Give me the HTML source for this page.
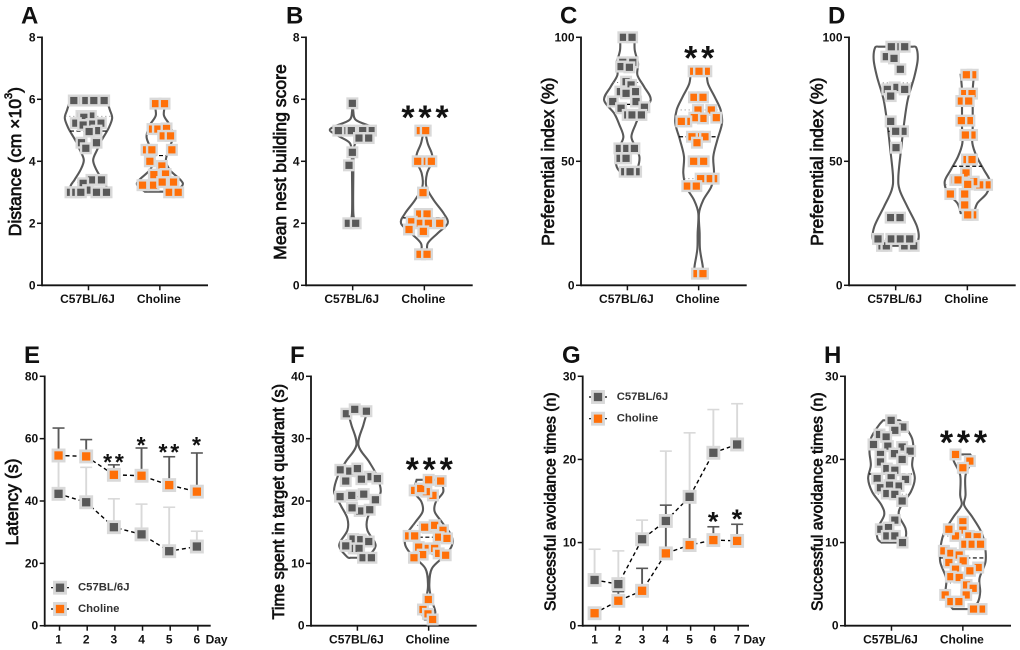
<!DOCTYPE html>
<html lang="en">
<head>
<meta charset="utf-8">
<title>Behavioural test panels A-H</title>
<style>
html,body{margin:0;padding:0;background:#fff;width:1020px;height:650px;overflow:hidden}
svg{display:block}
text{font-family:"Liberation Sans",sans-serif;fill:#111}
</style>
</head>
<body>
<svg id="figure" width="1020" height="650" viewBox="0 0 1020 650" xmlns="http://www.w3.org/2000/svg"></svg>
<script>
// ---------- Shared labels ----------
const groupNames = ["C57BL/6J", "Choline"];

// ---------- Panel A ----------
const aTicks = [0, 2, 4, 6, 8];
const aC57Values = [5.96,5.96,5.96,5.96,5.96,5.46,5.46,5.42,5.23,5.23,5.2,5.17,4.99,4.96,4.6,4.6,4.42,3.4,3.4,3.29,3.07,3,3,3,3,3];
const aC57Spread = [-21,-8,-44,16,47,-21,7,-14,-38,37,9,-16,24,2,24,-21,-8,9,39,-16,-1,-54,-38,-23,24,54];
const aC57Levels = [5.96,5.66,5.39,5.06,4.69,4.37,4.04,3.72,3.4,3.18,3.0];
const aC57Density = [55,64,71,60,40,26,14,24,42,54,40];
const aChoValues = [5.86,5.86,5.04,5.04,5.06,4.82,4.82,4.37,4.37,4.37,4,3.85,3.57,3.59,3.23,3.23,3.33,3.33,3,3];
const aChoSpread = [-13,14,-22,-6,20,10,32,-40,-24,36,-30,6,-18,17,-52,-19,7,41,28,55];
const aChoLevels = [5.92,5.49,5.17,4.8,4.47,4.04,3.72,3.4,3.23,3.02];
const aChoDensity = [18,12,30,40,30,18,30,62,68,45];

// ---------- Panel B ----------
const bTicks = [0, 2, 4, 6, 8];
const bC57Values = [5.87,4.99,4.99,4.99,4.99,4.99,4.75,4.75,4.29,3.87,2,2];
const bC57Spread = [-1,55,-23,-43,-4,30,19,48,-1,-11,-13,9];
const bC57Levels = [5.87,5.6,5.33,5.12,4.99,4.8,4.58,4.2,3.6,2.32,2];
const bC57Density = [2,2,10,55,68,40,8,3,2,2,10];
const bChoValues = [4.99,4.99,4,4,4,2.99,2.3,2.3,2.05,2,2,2,1.8,1.74,1,1];
const bChoSpread = [-12,4,0,-20,21,-4,-14,8,-38,-12,46,12,-46,-3,-13,8];
const bChoLevels = [4.99,4.58,4.26,4,3.61,3.18,2.75,2.32,2,1.68,1.35,1.03];
const bChoDensity = [2,10,22,24,8,6,28,58,70,40,10,10];

// ---------- Panel C ----------
const cTicks = [0, 50, 100];
const cC57Values = [100,100,89.9,89.9,88.2,87.9,82.1,80.8,78.1,78.1,77.4,74.1,74.1,71.4,71.8,68.7,68.7,68.7,55.2,55.2,55.2,51.2,51.2,45.8,45.8,45.8];
const cC57Spread = [-12,14,-14,16,-19,6,-4,11,-21,24,-4,-44,26,-19,51,1,14,42,-24,-2,21,-22,-4,-8,26,8];
const cC57Levels = [100,94.9,89.5,84.8,80.1,74.7,69.4,64.7,59.9,55.9,51.9,47.8,45.8];
const cC57Density = [22,22,32,30,50,70,40,24,12,24,36,32,22];
const cChoValues = [86.3,86.3,86.3,75.8,75.8,70.7,70.7,67.3,67.6,67.6,66.1,66.1,59.9,59.9,59.9,57.5,50,50,43,43,43,40,40,4.7,4.7];
const cChoSpread = [-15,23,1,-14,13,-2,38,13,-13,53,-37,-52,-2,-20,19,-5,-15,15,45,30,6,-34,-7,-5,13];
const cChoLevels = [86.3,81.4,76,70.7,65.3,58.6,51.9,45.2,39.8,34.4,29,21,14.5,8,4.7];
const cChoDensity = [24,28,48,66,70,56,44,46,38,14,1,3,4,12,14];

// ---------- Panel D ----------
const dTicks = [0, 50, 100];
const dC57Values = [96.2,96.2,96.2,92.2,91.5,87.1,79.8,79,79,76.3,66.1,62.1,62.1,55.5,27.3,27.3,15.9,15.9,15.9,15.9,18.7,18.7,18.7,18.7];
const dC57Spread = [12,-13,27,-28,-5,14,-3,-25,27,-15,-15,22,0,1,-15,13,-41,-28,27,54,-53,-13,14,42];
const dC57Levels = [96.2,95.8,90.9,84.1,74.7,64,54.6,43.8,38.4,31.7,23.7,18.3,15.9];
const dC57Density = [50,62,66,56,36,24,16,8,12,35,64,68,50];
const dChoValues = [84.9,84.9,77.3,77.3,74.3,74.3,66.4,66.4,60.6,60.6,50.7,50.7,45.3,42.5,42.5,40.5,40.5,41.8,40.7,36.8,36.8,32.4,28.4,28.4];
const dChoSpread = [16,-3,-8,14,-18,4,6,-18,14,-6,-1,14,-4,-36,-28,59,37,19,1,-51,-8,-8,16,1];
const dChoLevels = [84.9,78.7,72,63.9,57.3,51.9,46.5,41.8,37.1,33.1,29.1];
const dChoDensity = [20,16,16,16,15,28,50,68,58,30,20];

// ---------- Panel E ----------
const eDays = [1, 2, 3, 4, 5, 6];
const eTicks = [0, 20, 40, 60, 80];
const eC57Means = [42.3, 39.6, 31.6, 29.3, 23.9, 25.4];
const eC57Upper = [53.5, 50.8, 40.7, 39, 38, 30.3];
const eChoMeans = [54.6, 54.3, 48.4, 48.1, 45.1, 43];
const eChoUpper = [63.4, 59.7, 51.6, 57, 54.2, 55.4];
const eStarDays = [3, 4, 5, 6];
const eStarLabels = ["**", "*", "**", "*"];
const eStarLevels = [54.1, 59.6, 57.3, 59.6];

// ---------- Panel F ----------
const fTicks = [0, 10, 20, 30, 40];
const fC57Values = [34,34.7,34.4,25,24.8,25.2,23.9,23.6,23.5,23.2,20.7,20.9,21.1,20.2,18.4,18.9,18.6,13.9,13.8,13.5,12.4,12.4,12.8,10.9,10.9];
const fC57Spread = [-33,-8,27,-51,-23,0,37,60,12,-35,-52,-17,19,54,7,-16,37,-13,10,34,-11,5,-35,17,42];
const fC57Levels = [34.4,32.2,29,26.3,24.1,21.5,19.3,17.2,15.3,13.4,12.4,11,10.9];
const fC57Density = [30,18,3,35,58,70,50,30,30,52,52,30,20];
const fChoValues = [20.9,21.5,21.7,22,23.4,23.2,15.7,15.8,16.1,15.3,14.4,14.4,14.2,14,12.4,12.4,12.6,11.4,10.9,11.6,11.3,4.2,2.6,1.9,1];
const fChoSpread = [13,-7,-42,-24,0,36,-2,-12,18,43,-60,-42,30,55,-2,18,-30,-18,-44,30,51,-1,-17,-2,12];
const fChoLevels = [23.4,21.5,19.9,18.3,16.6,14.5,12.9,11.3,9.2,6.5,4.3,2.2,1];
const fChoDensity = [36,44,22,18,40,68,70,50,10,2,8,20,12];

// ---------- Panel G ----------
const gDays = [1, 2, 3, 4, 5, 6, 7];
const gTicks = [0, 10, 20, 30];
const gC57Means = [5.5, 5, 10.4, 12.6, 15.5, 20.8, 21.8];
const gC57Upper = [9.2, 9, 12.7, 21, 23.2, 26, 26.7];
const gChoMeans = [1.5, 3, 4.2, 8.7, 9.7, 10.3, 10.2];
const gChoUpper = [1.9, 4.1, 6.9, 14.5, 14.8, 11.9, 12.2];
const gStarDays = [6, 7];
const gStarLabels = ["*", "*"];
const gStarLevels = [13.3, 13.6];

// ---------- Panel H ----------
const hTicks = [0, 10, 20, 30];
const hC57Values = [24.7,23.9,23.5,23,22.7,21.8,21.6,21.5,21,20.6,20.7,20,19.7,18.9,18.7,17.7,17.6,17.8,16.6,16.8,16.9,15.9,15.8,15,12.7,11.6,11.8,10.8,10.8,10];
const hC57Spread = [-1,34,10,-36,-16,-54,-11,32,56,-33,9,32,-33,-14,10,-43,42,-1,-33,21,-6,-14,10,32,10,-32,-9,-14,10,33];
const hC57Levels = [24.7,24,22.5,20.9,19.3,17.7,16.1,14.5,13.3,11.7,10.5,10];
const hC57Density = [25,40,62,66,62,70,58,30,22,42,42,30];
const hChoValues = [20.6,19.8,19,12.5,11.5,10.8,10.8,10.7,11.6,9.8,9.8,9.8,9,8.7,8.5,7.8,7.6,7,6.8,6.6,5.9,5.8,4.9,4.5,3.7,3.7,2.9,2.9,2,2];
const hChoSpread = [-22,21,0,0,0,-22,18,43,-42,6,28,53,-57,-36,-11,1,-42,46,-22,21,-36,-11,11,31,-53,10,-36,-12,56,32];
const hChoLevels = [20.6,19.9,18.1,15.7,14.5,13.1,11.3,9.7,7.7,5.7,4.1,2.9,2];
const hChoDensity = [22,28,8,8,4,28,55,66,68,50,52,46,30];

const panelStarValues = { b: 5.65, c: 94.6, f: 26.3, h: 22.95 };

// ---------- Palette ----------
const GRAY = "#595959";
const HALO = "#d9d9d9";
const ORANGE = "#ff7009";
const INK = "#141414";
const spreadUnit = 1 / 3; // swarm offset and violin density units to pixels

const svg = document.getElementById("figure");
const NS = "http://www.w3.org/2000/svg";

function make(parent, tag, attrs, text) {
  const node = document.createElementNS(NS, tag);
  for (const key in attrs) node.setAttribute(key, attrs[key]);
  if (text !== undefined) node.textContent = text;
  parent.appendChild(node);
  return node;
}

function linear(d0, d1, r0, r1) {
  return function (v) { return r0 + (v - d0) / (d1 - d0) * (r1 - r0); };
}

function smooth(points) {
  let path = "";
  for (let i = 0; i < points.length - 1; i++) {
    const p0 = points[Math.max(i - 1, 0)];
    const p1 = points[i];
    const p2 = points[i + 1];
    const p3 = points[Math.min(i + 2, points.length - 1)];
    const c1x = p1[0] + (p2[0] - p0[0]) / 6;
    const c1y = p1[1] + (p2[1] - p0[1]) / 6;
    const c2x = p2[0] - (p3[0] - p1[0]) / 6;
    const c2y = p2[1] - (p3[1] - p1[1]) / 6;
    path += "C" + c1x.toFixed(2) + " " + c1y.toFixed(2) + " " + c2x.toFixed(2) + " " + c2y.toFixed(2) + " " + p2[0].toFixed(2) + " " + p2[1].toFixed(2);
  }
  return path;
}

function quantile(values, q) {
  const s = values.slice().sort(function (a, b) { return a - b; });
  const pos = (s.length - 1) * q;
  const lo = Math.floor(pos);
  const hi = Math.ceil(pos);
  return s[lo] + (s[hi] - s[lo]) * (pos - lo);
}

function densityAt(levels, density, v) {
  for (let i = 0; i < levels.length - 1; i++) {
    if (v <= levels[i] && v >= levels[i + 1]) {
      const t = (levels[i] - v) / (levels[i] - levels[i + 1]);
      return density[i] + (density[i + 1] - density[i]) * t;
    }
  }
  return 0;
}

function drawAxes(g, p, ticks, labels, labelFn) {
  const y = linear(0, ticks[ticks.length - 1], p.y0, p.y1);
  const yAxis = make(g, "line", { x1: p.x0, x2: p.x0, y1: p.y0 + 1, y2: p.y1 - 0.8, stroke: INK, "stroke-width": 1.8 });
  
  
  const xAxis = make(g, "line", { x1: p.x0, x2: p.x1, y1: p.y0, y2: p.y0, stroke: INK, "stroke-width": 1.8 });
  
  
  ticks.forEach(function (t) {
    const mark = make(g, "line", { x1: p.x0 - 5, x2: p.x0, y1: y(t), y2: y(t), stroke: INK, "stroke-width": 1.5 });
    
    
    const label = make(g, "text", { x: p.x0 - 6.5, y: y(t), "text-anchor": "end", "dominant-baseline": "central", "font-size": 12, "font-weight": "bold" }, String(t));
    
    
  });
  labels.forEach(function (name, i) {
    const cx = labelFn(i);
    const mark = make(g, "line", { x1: cx, x2: cx, y1: p.y0, y2: p.y0 + 5, stroke: INK, "stroke-width": 1.5 });
    
    
    const label = make(g, "text", { x: cx - 1, y: p.y0 + 13.6, "text-anchor": "middle", "dominant-baseline": "central", "font-size": 12, "font-weight": "bold" }, String(name));
    
    
  });
  return y;
}

function drawTitle(g, p) {
  const t = make(g, "text", {
    x: p.titleX, y: p.titleY, transform: "rotate(-90 " + p.titleX + " " + p.titleY + ")",
    "text-anchor": "middle", "dominant-baseline": "central",
    "font-size": p.titleSize, stroke: "#111", "stroke-width": 0.7
  });
  
  
  if (p.superscript) {
    make(t, "tspan", {}, p.title);
    make(t, "tspan", { dy: -6, "font-size": p.titleSize * 0.62 }, p.superscript);
    make(t, "tspan", { dy: 6 }, p.titleEnd);
  } else {
    t.textContent = p.title;
  }
  const letter = make(g, "text", { x: p.letterX, y: p.y1 < 100 ? 23.3 : 363, "font-size": 24, "font-weight": "bold", fill: "#000" }, p.letter);
  
  
}

function drawStars(g, label, cx, cy, size, step) {
  const star = make(g, "text", {
    x: cx, y: cy + size * 0.56, "text-anchor": "middle", "font-size": size, "font-weight": "bold",
    "letter-spacing": step - size * 0.389, fill: "#000"
  }, label);
  
  
}

function drawViolin(g, name, color, cx, y, levels, density, values, spread) {
  const right = levels.map(function (v, i) { return [cx + density[i] * spreadUnit, y(v)]; });
  const left = levels.map(function (v, i) { return [cx - density[i] * spreadUnit, y(v)]; }).reverse();
  const d = "M" + right[0][0] + " " + right[0][1] + smooth(right) +
            "L" + left[0][0] + " " + left[0][1] + smooth(left) + "Z";
  const outline = make(g, "path", { d: d, fill: "none", stroke: GRAY, "stroke-width": 2.1 });
  
  

  [0.25, 0.5, 0.75].forEach(function (q) {
    const level = quantile(values, q);
    const half = densityAt(levels, density, level) * spreadUnit;
    const isMedian = q === 0.5;
    const stat = make(g, "line", {
      x1: cx - half, x2: cx + half, y1: y(level), y2: y(level), stroke: isMedian ? "#000" : "#777",
      "stroke-width": isMedian ? 1.2 : 0.9, "stroke-dasharray": isMedian ? "4 2.5" : "1 3"
    });
    
    
  });

  values.forEach(function (v, i) {
    const px = cx + (spread[i] || 0) * spreadUnit;
    const py = y(v);
    const dot = make(g, "rect", { x: px - 4.8, y: py - 4.8, width: 9.6, height: 9.6, fill: color, stroke: HALO, "stroke-width": 2.4 });
    
    
  });
}

function violinPanel(p, ticks, series, starValue) {
  const g = make(svg, "g", {});
  
  
  const xCat = function (i) { return p.x0 + (p.x1 - p.x0) * (0.28 + 0.43 * i); };
  const y = drawAxes(g, p, ticks, groupNames, xCat);
  drawTitle(g, p);
  series.forEach(function (s, i) {
    drawViolin(g, s.name, s.color, xCat(i), y, s.levels, s.density, s.values, s.spread);
  });
  if (p.stars) drawStars(g, p.stars, xCat(1) + 2.5, y(starValue), 34, 17);
}

function lineSeries(g, name, halo, x, y, means, upper) {
  upper.forEach(function (u, i) {
    const whisker = make(g, "line", { x1: x(i), x2: x(i), y1: y(means[i]), y2: y(u), stroke: halo, "stroke-width": 1.9 });
    
    
    const cap = make(g, "line", { x1: x(i) - 6, x2: x(i) + 6, y1: y(u), y2: y(u), stroke: halo, "stroke-width": 1.6 });
    
    
  });
}

function lineMarks(g, name, color, x, y, means) {
  const d = means.map(function (m, i) { return (i ? "L" : "M") + x(i).toFixed(2) + " " + y(m).toFixed(2); }).join("");
  const path = make(g, "path", { d: d, fill: "none", stroke: "#000", "stroke-width": 1.4, "stroke-dasharray": "4 3" });
  
  
  means.forEach(function (m, i) {
    const dot = make(g, "rect", { x: x(i) - 5.55, y: y(m) - 5.55, width: 11.1, height: 11.1, fill: color, stroke: HALO, "stroke-width": 2.8 });
    
    
  });
}

function legendEntry(g, name, color, lx, ly, tx) {
  const dash = make(g, "line", { x1: lx - 9, x2: lx + 9, y1: ly, y2: ly, stroke: "#000", "stroke-width": 1.2, "stroke-dasharray": "2 14" });
  
  
  const swatch = make(g, "rect", { x: lx - 5.55, y: ly - 5.55, width: 11.1, height: 11.1, fill: color, stroke: HALO, "stroke-width": 2.8 });
  
  
  const label = make(g, "text", { x: tx, y: ly, "dominant-baseline": "central", "font-size": 11.3, "font-weight": "bold", style: "fill:#333" }, name);
  
  
}

function linePanel(p, days, ticks, c57Means, c57Upper, choMeans, choUpper, starDays, starLabels, starLevels) {
  const g = make(svg, "g", {});
  
  
  const band = (p.x1 - p.x0) / days.length;
  const x = function (i) { return p.x0 + band * (i + 0.5); };
  const y = drawAxes(g, p, ticks, days, function (i) { return x(i) + 1; });
  drawTitle(g, p);
  const dayLabel = make(g, "text", { x: p.dayX, y: p.y0 + 13.6, "dominant-baseline": "central", "font-size": 12, "font-weight": "bold" }, "Day");
  
  
  lineSeries(g, "c57", HALO, x, y, c57Means, c57Upper);
  lineSeries(g, "choline", GRAY, x, y, choMeans, choUpper);
  lineMarks(g, "c57", GRAY, x, y, c57Means);
  lineMarks(g, "choline", ORANGE, x, y, choMeans);
  starDays.forEach(function (day, i) {
    drawStars(g, starLabels[i], x(days.indexOf(day)) + 1, y(starLevels[i]), p.starSize, p.starStep);
  });
  legendEntry(g, groupNames[0], GRAY, p.legendX, p.legendY1, p.legendTextX);
  legendEntry(g, groupNames[1], ORANGE, p.legendX, p.legendY2, p.legendTextX);
}

violinPanel(
  { id: "a", letter: "A", letterX: 21, x0: 42, x1: 208, y0: 285.3, y1: 37.3, title: "Distance (cm ×10", superscript: "3", titleEnd: ")", titleSize: 17.6, titleX: 15, titleY: 161.7 },
  aTicks,
  [{ name: "c57", color: GRAY, values: aC57Values, spread: aC57Spread, levels: aC57Levels, density: aC57Density },
   { name: "choline", color: ORANGE, values: aChoValues, spread: aChoSpread, levels: aChoLevels, density: aChoDensity }]
);
violinPanel(
  { id: "b", letter: "B", letterX: 286, x0: 306, x1: 472.7, y0: 285.3, y1: 37.3, title: "Mean nest building score", titleSize: 17.6, titleX: 280, titleY: 162, stars: "***" },
  bTicks,
  [{ name: "c57", color: GRAY, values: bC57Values, spread: bC57Spread, levels: bC57Levels, density: bC57Density },
   { name: "choline", color: ORANGE, values: bChoValues, spread: bChoSpread, levels: bChoLevels, density: bChoDensity }],
  panelStarValues.b
);
violinPanel(
  { id: "c", letter: "C", letterX: 560, x0: 581, x1: 746.7, y0: 285.3, y1: 37.3, title: "Preferential index (%)", titleSize: 17.5, titleX: 548, titleY: 161.7, stars: "**" },
  cTicks,
  [{ name: "c57", color: GRAY, values: cC57Values, spread: cC57Spread, levels: cC57Levels, density: cC57Density },
   { name: "choline", color: ORANGE, values: cChoValues, spread: cChoSpread, levels: cChoLevels, density: cChoDensity }],
  panelStarValues.c
);
violinPanel(
  { id: "d", letter: "D", letterX: 828, x0: 849, x1: 1015.7, y0: 285.3, y1: 37.3, title: "Preferential index (%)", titleSize: 17.5, titleX: 817, titleY: 161.7 },
  dTicks,
  [{ name: "c57", color: GRAY, values: dC57Values, spread: dC57Spread, levels: dC57Levels, density: dC57Density },
   { name: "choline", color: ORANGE, values: dChoValues, spread: dChoSpread, levels: dChoLevels, density: dChoDensity }]
);
linePanel(
  { id: "e", letter: "E", letterX: 24, x0: 44.7, x1: 210.7, y0: 625.7, y1: 376.3, title: "Latency (s)", titleSize: 17.6, titleX: 12, titleY: 502, dayX: 205.6, starSize: 23, starStep: 11.7, legendX: 60, legendY1: 587.7, legendY2: 609, legendTextX: 78 },
  eDays, eTicks, eC57Means, eC57Upper, eChoMeans, eChoUpper, eStarDays, eStarLabels, eStarLevels
);
violinPanel(
  { id: "f", letter: "F", letterX: 290, x0: 311, x1: 476.7, y0: 625.7, y1: 376.3, title: "Time spent in target quadrant (s)", titleSize: 16.3, titleX: 279, titleY: 501.7, stars: "***" },
  fTicks,
  [{ name: "c57", color: GRAY, values: fC57Values, spread: fC57Spread, levels: fC57Levels, density: fC57Density },
   { name: "choline", color: ORANGE, values: fChoValues, spread: fChoSpread, levels: fChoLevels, density: fChoDensity }],
  panelStarValues.f
);
linePanel(
  { id: "g", letter: "G", letterX: 562, x0: 582.7, x1: 749, y0: 625.7, y1: 376.3, title: "Successful avoidance times (n)", titleSize: 15.8, titleX: 551, titleY: 501.7, dayX: 743.4, starSize: 27, starStep: 13, legendX: 598, legendY1: 397, legendY2: 418.7, legendTextX: 616.7 },
  gDays, gTicks, gC57Means, gC57Upper, gChoMeans, gChoUpper, gStarDays, gStarLabels, gStarLevels
);
violinPanel(
  { id: "h", letter: "H", letterX: 824, x0: 845, x1: 1011, y0: 625.7, y1: 376.3, title: "Successful avoidance times (n)", titleSize: 15.8, titleX: 818, titleY: 501.7, stars: "***" },
  hTicks,
  [{ name: "c57", color: GRAY, values: hC57Values, spread: hC57Spread, levels: hC57Levels, density: hC57Density },
   { name: "choline", color: ORANGE, values: hChoValues, spread: hChoSpread, levels: hChoLevels, density: hChoDensity }],
  panelStarValues.h
);
</script>
</body>
</html>
